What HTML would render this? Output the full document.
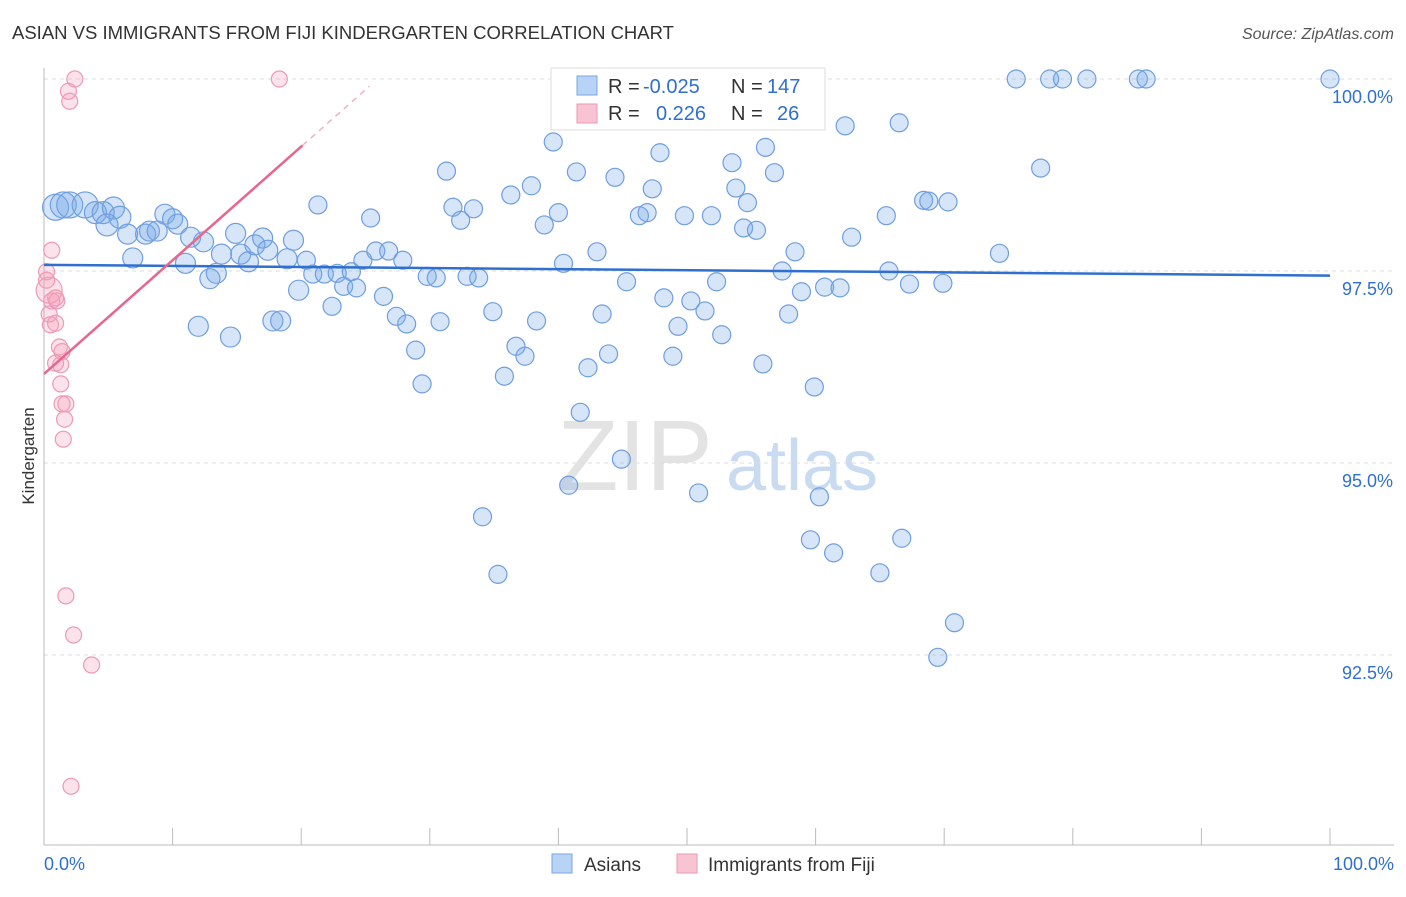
<!DOCTYPE html>
<html><head><meta charset="utf-8"><style>
body{margin:0;background:#fff;font-family:"Liberation Sans",sans-serif}
svg text{font-family:"Liberation Sans",sans-serif}
</style></head><body>
<svg id="c" width="1406" height="892" xmlns="http://www.w3.org/2000/svg">
<text x="12" y="39" font-size="18.5" fill="#333">ASIAN VS IMMIGRANTS FROM FIJI KINDERGARTEN CORRELATION CHART</text>
<text x="1394" y="39" font-size="16" fill="#555" text-anchor="end" font-style="italic">Source: ZipAtlas.com</text>
<text x="34" y="456" font-size="17" fill="#333" text-anchor="middle" transform="rotate(-90 34 456)">Kindergarten</text>
<g><text x="635" y="490" font-size="100" fill="#ddd" text-anchor="middle" font-family="Liberation Serif" opacity="0.8">ZIP</text><text x="802" y="490" font-size="72" fill="#bcd3ee" text-anchor="middle" opacity="0.8">atlas</text></g>
<g id="grid"></g><g id="axes"></g><g id="pts"></g><g id="lines"></g>
<g>
<rect x="551" y="68" width="274" height="62" fill="#fff" stroke="#ddd"/>
<rect x="577" y="76" width="20" height="19" fill="#b7d3f5" stroke="#7aa7e0"/>
<rect x="577" y="104" width="20" height="19" fill="#f8c4d3" stroke="#e89ab2"/>
<text x="608" y="93" font-size="20" fill="#333">R =</text>
<text x="643" y="93" font-size="20" fill="#2f6fd0">-0.025</text>
<text x="731" y="93" font-size="20" fill="#333">N =</text>
<text x="767" y="93" font-size="20" fill="#2f6fd0">147</text>
<text x="608" y="120" font-size="20" fill="#333">R =</text>
<text x="656" y="120" font-size="20" fill="#2f6fd0">0.226</text>
<text x="731" y="120" font-size="20" fill="#333">N =</text>
<text x="777" y="120" font-size="20" fill="#2f6fd0">26</text>
</g>
<g>
<rect x="552" y="854" width="20" height="19" fill="#b7d3f5" stroke="#7aa7e0"/><text x="584" y="871" font-size="19" fill="#333">Asians</text>
<rect x="677" y="854" width="20" height="19" fill="#f8c4d3" stroke="#e89ab2"/><text x="708" y="871" font-size="19" fill="#333">Immigrants from Fiji</text>
</g>
</svg>
<script>
const blueX=[0.9,1.5,2.0,3.2,4.0,4.6,5.4,5.9,4.9,6.5,6.9,7.9,8.2,8.8,9.4,10.0,10.4,11.0,11.4,12.4,12.9,12.0,13.4,13.8,14.5,14.9,15.3,15.9,16.4,17.0,17.4,17.8,18.4,18.9,19.4,19.8,20.4,20.9,21.3,21.8,22.4,22.8,23.3,23.9,24.3,24.8,25.4,25.8,26.4,26.8,27.4,27.9,28.2,28.9,29.4,29.8,30.5,30.8,31.3,31.8,32.4,32.9,33.4,33.8,34.1,34.9,35.3,35.8,36.3,36.7,37.4,37.9,38.3,38.9,39.6,40.0,40.4,40.8,41.4,41.7,42.3,43.0,43.4,43.9,44.4,44.9,45.3,45.9,46.3,46.9,47.3,47.9,48.2,48.9,49.3,49.8,50.3,50.9,51.4,51.9,52.3,52.7,53.5,53.8,54.4,54.7,55.4,55.9,56.1,56.8,57.4,57.9,58.4,58.9,59.6,59.9,60.3,60.7,61.4,61.9,62.3,62.8,65.0,65.5,65.7,66.5,66.7,67.3,68.4,68.8,69.5,69.9,70.3,70.8,74.3,75.6,77.5,78.2,79.2,81.1,85.1,85.7,100];
const blueY=[98.33,98.36,98.36,98.36,98.26,98.26,98.32,98.20,98.10,97.98,97.67,97.98,98.02,98.02,98.24,98.18,98.11,97.60,97.94,97.88,97.40,96.78,97.47,97.72,96.64,97.99,97.72,97.62,97.84,97.93,97.77,96.85,96.85,97.66,97.90,97.25,97.64,97.46,98.36,97.46,97.04,97.47,97.30,97.49,97.28,97.64,98.19,97.76,97.17,97.76,96.91,97.64,96.81,96.47,96.03,97.43,97.41,96.84,98.80,98.33,98.16,97.43,98.31,97.41,94.30,96.97,93.55,96.13,98.49,96.52,96.39,98.61,96.85,98.10,99.18,98.26,97.60,94.71,98.79,95.66,96.24,97.75,96.94,96.42,98.72,95.05,97.36,99.53,98.22,98.26,98.57,99.04,97.15,96.39,96.78,98.22,97.11,94.61,96.98,98.22,97.36,96.67,98.91,98.58,98.06,98.39,98.03,96.29,99.11,98.78,97.50,96.94,97.75,97.23,94.00,95.99,94.56,97.29,93.83,97.28,99.39,97.94,93.57,98.22,97.50,99.43,94.02,97.33,98.42,98.41,92.47,97.34,98.40,92.92,97.73,100,98.84,100,100,100,100,100,100];
const pinkX=[2.4,1.9,2.0,18.3,0.6,0.2,0.2,0.4,0.9,0.6,1.0,0.4,0.5,0.9,1.2,1.4,0.9,1.3,1.3,1.4,1.7,1.6,1.5,1.7,2.3,3.7,2.1];
const pinkY=[100,99.84,99.71,100,97.77,97.49,97.38,97.25,97.15,97.11,97.11,96.94,96.80,96.82,96.51,96.45,96.30,96.28,96.03,95.77,95.77,95.57,95.31,93.27,92.76,92.37,90.79];
const yTicks=[100,97.5,95,92.5];
const yTickLabels=["100.0%","97.5%","95.0%","92.5%"];
const blueTrend=[97.58,97.44];
const pinkTrend=[96.16,0.148];
const NS="http://www.w3.org/2000/svg";
const sx=v=>44+v*12.86, sy=v=>79+(100-v)*76.8;
function mk(p,t,a){const e=document.createElementNS(NS,t);for(const k in a)e.setAttribute(k,a[k]);document.getElementById(p).appendChild(e);return e;}
yTicks.forEach((t,i)=>{
 const l=mk('grid','line',{x1:44,x2:1394,y1:sy(t),y2:sy(t),stroke:'#ddd','stroke-dasharray':'4,4'});
 
 
 const tx=mk('grid','text',{x:1393,y:sy(t)+24,'font-size':18,fill:'#2f6fd0','text-anchor':'end'});
 tx.textContent=yTickLabels[i];
 
 
});
const ax=mk('axes','line',{x1:44,x2:1394,y1:845,y2:845,stroke:'#bbb'});


const ay=mk('axes','line',{x1:44,x2:44,y1:68,y2:845,stroke:'#bbb'});


for(let i=0;i<=10;i++){const t=mk('axes','line',{x1:sx(i*10),x2:sx(i*10),y1:828,y2:845,stroke:'#bbb'});
 
 }
[["0.0%",44,'start'],["100.0%",1394,'end']].forEach(a=>{const t=mk('axes','text',{x:a[1],y:870,'font-size':18,fill:'#2f6fd0','text-anchor':a[2]});t.textContent=a[0];
 
 });
blueX.forEach((x,i)=>{const r=x<4?13:(x<6?11:(x<20?10:9));
 const c=mk('pts','circle',{cx:sx(x),cy:sy(blueY[i]),r:r,fill:'rgba(120,168,232,0.3)',stroke:'#6f9ee0','stroke-width':1.2});
 
 });
pinkX.forEach((x,i)=>{const r=i==7?13:8;
 const c=mk('pts','circle',{cx:sx(x),cy:sy(pinkY[i]),r:r,fill:'rgba(244,160,186,0.3)',stroke:'#ee9ab4','stroke-width':1.2});
 
 });
const bl=mk('lines','line',{x1:sx(0),x2:sx(100),y1:sy(blueTrend[0]),y2:sy(blueTrend[1]),stroke:'#2f6fd0','stroke-width':2.5});


const pf=x=>pinkTrend[0]+pinkTrend[1]*x;
const pl=mk('lines','line',{x1:sx(0),x2:sx(20.1),y1:sy(pf(0)),y2:sy(pf(20.1)),stroke:'#e8658e','stroke-width':2.5});


const pd=mk('lines','line',{x1:sx(20.1),x2:sx(25.3),y1:sy(pf(20.1)),y2:sy(pf(25.3)),stroke:'#f0b0c4','stroke-width':1.5,'stroke-dasharray':'6,5'});


</script>
</body></html>
